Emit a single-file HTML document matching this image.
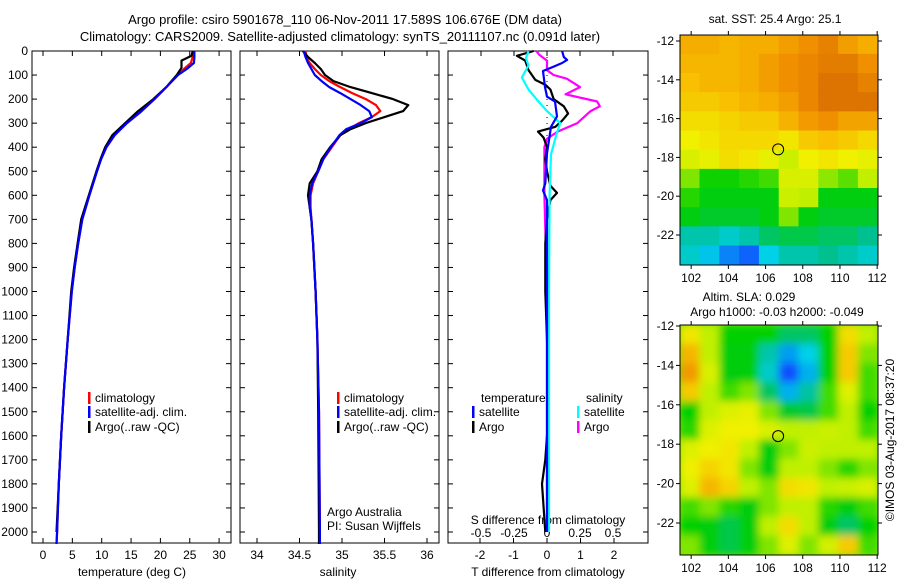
<!DOCTYPE html>
<html><head><meta charset="utf-8">
<style>
html,body{margin:0;padding:0;background:#fff;}
svg{display:block;font-family:"Liberation Sans",sans-serif;}
text{font-size:12px;fill:#000;}
</style></head>
<body>
<svg id="fig" width="900" height="580" viewBox="0 0 900 580" xmlns="http://www.w3.org/2000/svg">
<defs>
<clipPath id="clipM2"><rect x="680" y="325" width="198" height="230"/></clipPath>
<filter id="blur" x="-5%" y="-5%" width="110%" height="110%"><feGaussianBlur stdDeviation="4"/></filter>
</defs>
<text x="345" y="24" text-anchor="middle" style="font-size:13px">Argo profile: csiro 5901678_110 06-Nov-2011 17.589S 106.676E (DM data)</text>
<text x="340" y="41" text-anchor="middle" style="font-size:13px">Climatology: CARS2009. Satellite-adjusted climatology: synTS_20111107.nc (0.091d later)</text>
<text x="775" y="23" text-anchor="middle">sat. SST: 25.4 Argo: 25.1</text>
<text x="749" y="301" text-anchor="middle">Altim. SLA: 0.029</text>
<text x="777" y="316" text-anchor="middle">Argo h1000: -0.03 h2000: -0.049</text>
<text transform="translate(894,440) rotate(-90)" text-anchor="middle">©IMOS 03-Aug-2017 08:37:20</text>
<g id="layer"></g>
</svg>
<script>
// ---- data ----
const depthTicks=[0,100,200,300,400,500,600,700,800,900,1000,1100,1200,1300,1400,1500,1600,1700,1800,1900,2000];
const tempTicks=[0,5,10,15,20,25,30];
const salTicks=[34,34.5,35,35.5,36];
const tdiffTicks=[-2,-1,0,1,2];
const sdiffTicks=[-0.5,-0.25,0,0.25,0.5];
const sdiffTickLabels=["-0.5","-0.25","0","0.25","0.5"];
const salTickLabels=["34","34.5","35","35.5","36"];

const tDepth=[0,25,50,75,100,150,200,250,300,350,400,450,500,600,700,800,900,1000,1200,1400,1600,1800,2000,2050];
const tClim=[25.5,25.5,25.2,24,23,21,19,16.8,14.3,12.2,10.8,9.9,9.2,7.9,6.7,6.0,5.4,4.9,4.2,3.6,3.1,2.7,2.4,2.3];
const tSat=[25.8,25.8,25.7,24.5,23,21,19,16.8,14.3,12.2,10.8,9.9,9.2,7.9,6.7,6.0,5.4,4.9,4.2,3.6,3.1,2.7,2.4,2.3];
const aDepth=[0,20,40,70,100,150,200,250,300,350,400,450,500,600,700,800,900,1000,1200,1400,1600,1800,2000];
const tArgo=[25.5,25.3,23.6,23.6,22.8,21,18.8,16.2,14,11.8,10.6,9.8,9.1,7.8,6.5,5.9,5.3,4.8,4.2,3.6,3.1,2.7,2.3];

const sDepth=[0,25,50,75,100,125,150,175,200,225,250,275,300,325,350,375,400,450,500,550,600,650,700,800,1000,1200,1500,2000,2050];
const sClim=[34.57,34.58,34.62,34.68,34.75,34.85,34.98,35.12,35.28,35.4,35.45,35.35,35.2,35.08,34.98,34.93,34.88,34.78,34.72,34.66,34.63,34.63,34.64,34.66,34.69,34.71,34.73,34.74,34.74];
const sSat=[34.55,34.57,34.6,34.64,34.68,34.76,34.85,34.98,35.1,35.22,35.32,35.35,35.22,35.05,34.97,34.92,34.87,34.78,34.72,34.65,34.62,34.62,34.64,34.66,34.69,34.71,34.73,34.74,34.74];
const sArgo=[34.54,34.6,34.68,34.75,34.8,34.9,35.1,35.35,35.6,35.78,35.72,35.5,35.28,35.1,34.98,34.92,34.86,34.76,34.71,34.62,34.6,34.62,34.64,34.66,34.69,34.71,34.72,34.73,34.73];

const dtArgoDepth=[0,20,40,80,120,140,160,200,230,260,290,315,335,360,400,450,500,560,590,620,700,800,1000,1200,1500,1700,1800,2000];
const dtArgo=[-0.4,-0.9,-0.65,-0.55,-0.35,-0.05,0.1,0.2,0.5,0.63,0.45,0.25,-0.27,-0.1,0,-0.05,0,0.1,0.3,0.1,0,-0.05,-0.05,0,0.05,-0.05,-0.15,-0.05];
const dtSatDepth=[0,25,37,50,65,83,150,190,210,272,315,425,550,580,620,700,1000,2000];
const dtSat=[0.45,0.5,0.6,0.45,0.2,-0.12,-0.06,0,0.24,0.3,0.12,0,-0.05,-0.12,0,0,0,0];
const dsSatDepth=[0,30,60,110,160,200,250,300,350,430,600,1000,2000];
const dsSat=[-0.14,-0.16,-0.14,-0.19,-0.14,-0.08,0,0.1,0.07,0.03,0.02,0.015,0.015];
const dsArgoDepth=[0,15,40,80,100,115,150,180,210,230,250,300,335,365,400,600,1000,1500,2000];
const dsArgo=[-0.08,-0.06,0,0,0.05,0.15,0.25,0.14,0.38,0.4,0.33,0.23,0.08,0,-0.02,-0.02,0,0,0];

const mapLonTicks=[102,104,106,108,110,112];
const mapLatTicks=[-12,-14,-16,-18,-20,-22];
const argoLon=106.676, argoLat=-17.589;
const sstGrid=[
[0.84,0.84,0.82,0.84,0.84,0.87,0.9,0.93,0.87,0.84],
[0.82,0.82,0.82,0.84,0.87,0.9,0.92,0.94,0.94,0.9],
[0.8,0.82,0.82,0.84,0.87,0.9,0.92,0.96,0.96,0.93],
[0.78,0.78,0.8,0.82,0.84,0.87,0.92,0.96,0.96,0.96],
[0.74,0.74,0.76,0.78,0.78,0.83,0.88,0.9,0.86,0.86],
[0.7,0.72,0.75,0.75,0.75,0.72,0.78,0.8,0.78,0.75],
[0.65,0.68,0.74,0.72,0.68,0.62,0.7,0.72,0.7,0.68],
[0.55,0.46,0.46,0.48,0.5,0.65,0.65,0.56,0.52,0.6],
[0.48,0.44,0.44,0.44,0.44,0.62,0.6,0.44,0.44,0.44],
[0.44,0.42,0.42,0.42,0.44,0.55,0.44,0.42,0.42,0.42],
[0.3,0.3,0.25,0.3,0.38,0.4,0.4,0.38,0.38,0.35],
[0.25,0.18,0.08,0.03,0.2,0.3,0.3,0.35,0.3,0.25]];
const slaGrid=[
[0.72,0.6,0.45,0.45,0.45,0.38,0.38,0.45,0.74,0.6],
[0.82,0.6,0.44,0.44,0.3,0.12,0.2,0.45,0.78,0.55],
[0.88,0.65,0.44,0.44,0.25,0.0,0.15,0.45,0.78,0.5],
[0.78,0.6,0.5,0.55,0.38,0.15,0.32,0.5,0.66,0.5],
[0.45,0.6,0.66,0.68,0.55,0.42,0.4,0.5,0.6,0.45],
[0.48,0.66,0.7,0.7,0.65,0.6,0.6,0.62,0.6,0.5],
[0.66,0.7,0.72,0.6,0.44,0.55,0.62,0.6,0.6,0.6],
[0.7,0.76,0.72,0.55,0.44,0.6,0.6,0.55,0.48,0.55],
[0.66,0.82,0.76,0.6,0.55,0.74,0.72,0.6,0.62,0.65],
[0.5,0.55,0.48,0.44,0.55,0.6,0.6,0.48,0.44,0.5],
[0.45,0.44,0.4,0.44,0.6,0.74,0.6,0.44,0.38,0.45],
[0.55,0.44,0.4,0.44,0.55,0.66,0.55,0.64,0.78,0.5]];

// ---- scales ----
const yD=d=>51+d*0.2405;
const xT=t=>43+t*5.87;
const xS=s=>257+(s-34)*85;
const xdT=v=>547+33.5*v;
const xdS=v=>547+132*v;
const m1x=lon=>680+(lon-101.4)*18.6, m1y=lat=>41+(-12-lat)*19.4;
const m2x=lon=>680+(lon-101.4)*18.6, m2y=lat=>326+(-12-lat)*19.7;

const NS="http://www.w3.org/2000/svg";
const L=document.getElementById('layer');
function mk(tag,at,parent){const e=document.createElementNS(NS,tag);for(const k in at)e.setAttribute(k,at[k]);(parent||L).appendChild(e);return e;}
function txt(x,y,s,anchor){const e=mk('text',{x:x,y:y,'text-anchor':anchor||'middle'});e.textContent=s;return e;}

const stops=[[0,[16,80,255]],[0.2,[0,208,232]],[0.35,[0,192,144]],[0.45,[0,208,0]],[0.6,[192,240,0]],[0.7,[240,240,0]],[0.8,[248,192,0]],[0.9,[240,144,0]],[1,[208,96,0]]];
function cmap(v){for(let i=1;i<stops.length;i++){if(v<=stops[i][0]){const a=stops[i-1],b=stops[i],f=(v-a[0])/(b[0]-a[0]);const c=a[1].map((q,j)=>Math.round(q+(b[1][j]-q)*f));return `rgb(${c})`;}}return 'rgb(208,96,0)';}

// ---- maps ----
function drawMap(grid,x0,y0,w,h,parent,nm){
  const rows=grid.length,cols=grid[0].length,cw=w/cols,ch=h/rows;
  grid.forEach((row,r)=>row.forEach((v,c)=>{
    const e=mk('rect',{x:x0+c*cw-0.3,y:y0+r*ch-0.3,width:cw+0.6,height:ch+0.6,fill:cmap(v)},parent);
    
    
  }));
}
drawMap(sstGrid,680,35,198,230,L,'sst-cell');
const g2=mk('g',{'clip-path':'url(#clipM2)'});
const bg2=mk('rect',{x:670,y:315,width:220,height:250,fill:cmap(0.55)},g2);


const g2b=mk('g',{filter:'url(#blur)'},g2);
drawMap(slaGrid,680,325,198,230,g2b,'sla-cell');
function mapFrame(x0,y0,w,h,fx,fy,nm){
  const f=mk('rect',{x:x0,y:y0,width:w,height:h,fill:'none',stroke:'#000','stroke-width':1});
  
  
  mapLonTicks.forEach(v=>{const x=fx(v);mk('line',{x1:x,x2:x,y1:y0+h,y2:y0+h+4,stroke:'#000'});mk('line',{x1:x,x2:x,y1:y0,y2:y0-4,stroke:'#000'});
    const t=txt(x,y0+h+17,String(v));});
  mapLatTicks.forEach(v=>{const y=fy(v);mk('line',{x1:x0,x2:x0-4,y1:y,y2:y,stroke:'#000'});mk('line',{x1:x0+w,x2:x0+w+4,y1:y,y2:y,stroke:'#000'});
    const t=txt(x0-6,y+4,String(v),'end');});
}
mapFrame(680,35,198,230,m1x,m1y,'sst-map-frame');
mapFrame(680,325,198,230,m2x,m2y,'sla-map-frame');
const c1=mk('circle',{cx:m1x(argoLon),cy:m1y(argoLat),r:5.5,fill:'none',stroke:'#000'});


const c2=mk('circle',{cx:m2x(argoLon),cy:m2y(argoLat),r:5.5,fill:'none',stroke:'#000'});



// ---- profile panels ----
const panels=[[32,231],[240,439],[448,648]];
panels.forEach((p,i)=>{
  const f=mk('rect',{x:p[0],y:51,width:p[1]-p[0],height:492,fill:'none',stroke:'#000'});
  
  
  depthTicks.forEach(d=>{const y=yD(d);
    mk('line',{x1:p[0],x2:p[0]+5,y1:y,y2:y,stroke:'#000'});
    mk('line',{x1:p[1],x2:p[1]-5,y1:y,y2:y,stroke:'#000'});});
});
depthTicks.forEach(d=>{const t=txt(28,yD(d)+4,String(d),'end');
  
  });
tempTicks.forEach(v=>{const x=xT(v);mk('line',{x1:x,x2:x,y1:543,y2:538,stroke:'#000'});mk('line',{x1:x,x2:x,y1:51,y2:56,stroke:'#000'});
  const t=txt(x,559,String(v));});
salTicks.forEach((v,i)=>{const x=xS(v);mk('line',{x1:x,x2:x,y1:543,y2:538,stroke:'#000'});mk('line',{x1:x,x2:x,y1:51,y2:56,stroke:'#000'});
  const t=txt(x,559,salTickLabels[i]);});
tdiffTicks.forEach(v=>{const x=xdT(v);mk('line',{x1:x,x2:x,y1:543,y2:538,stroke:'#000'});
  const t=txt(x,559,String(v));});
sdiffTicks.forEach((v,i)=>{const x=xdS(v);mk('line',{x1:x,x2:x,y1:51,y2:56,stroke:'#000'});
  const t=txt(x,537,sdiffTickLabels[i]);});

let t;
t=txt(132,576,'temperature (deg C)');
t=txt(338,576,'salinity');
t=txt(548,576,'T difference from climatology');
t=txt(548,524,'S difference from climatology');
t=txt(327,516,'Argo Australia','start');
t=txt(327,530,'PI: Susan Wijffels','start');

const z=mk('line',{x1:xdT(0),x2:xdT(0),y1:yD(0),y2:yD(420),stroke:'#000','stroke-dasharray':'1,5'});



function line(xs,ds,fx,color,nm){
  const pts=xs.map((v,i)=>fx(v).toFixed(1)+','+yD(ds[i]).toFixed(1)).join(' ');
  const e=mk('polyline',{points:pts,fill:'none',stroke:color,'stroke-width':2.2,'stroke-linejoin':'round'});
  
  
}
line(tClim,tDepth,xT,'#ff0000','temperature-climatology-line');
line(tArgo,aDepth,xT,'#000000','temperature-argo-line');
line(tSat,tDepth,xT,'#0000ff','temperature-satellite-line');
line(sClim,sDepth,xS,'#ff0000','salinity-climatology-line');
line(sArgo,sDepth,xS,'#000000','salinity-argo-line');
line(sSat,sDepth,xS,'#0000ff','salinity-satellite-line');
line(dsArgo,dsArgoDepth,xdS,'#ff00ff','sdiff-argo-line');
line(dtArgo,dtArgoDepth,xdT,'#000000','tdiff-argo-line');
line(dsSat,dsSatDepth,xdS,'#00ffff','sdiff-satellite-line');
line(dtSat,dtSatDepth,xdT,'#0000ff','tdiff-satellite-line');

function legend(x,y,color,label,nm){
  const m=mk('rect',{x:x,y:y-10,width:2.5,height:12,fill:color});
  
  
  const tt=txt(x+7,y,label,'start');
  
  
}
legend(88,402,'#ff0000','climatology','legend-climatology');
legend(88,416,'#0000ff','satellite-adj. clim.','legend-satellite');
legend(88,431,'#000000','Argo(..raw -QC)','legend-argo');
legend(337,402,'#ff0000','climatology','legend-climatology');
legend(337,416,'#0000ff','satellite-adj. clim.','legend-satellite');
legend(337,431,'#000000','Argo(..raw -QC)','legend-argo');
t=txt(481,402,'temperature','start');
t=txt(586,402,'salinity','start');
legend(472,416,'#0000ff','satellite','legend-t-satellite');
legend(472,431,'#000000','Argo','legend-t-argo');
legend(577,416,'#00ffff','satellite','legend-s-satellite');
legend(577,431,'#ff00ff','Argo','legend-s-argo');
</script>
</body></html>
